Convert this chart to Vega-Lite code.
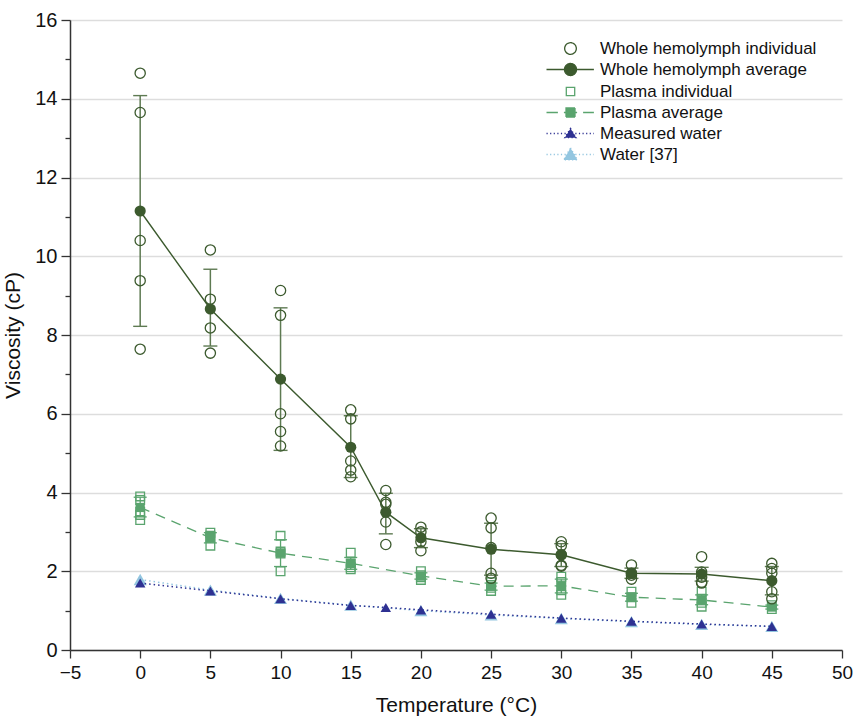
{
  "$schema": "https://vega.github.io/schema/vega-lite/v6.json",
  "width": 772,
  "height": 630,
  "autosize": "none",
  "padding": {"left": 70, "top": 20, "right": 11, "bottom": 71},
  "config": {
    "view": {"stroke": null},
    "font": "Liberation Sans",
    "axis": {
      "labelFont": "Liberation Sans",
      "titleFont": "Liberation Sans",
      "labelFontSize": 20,
      "titleFontSize": 21,
      "titleFontWeight": "normal",
      "labelColor": "#111111",
      "titleColor": "#111111",
      "domainColor": "#333333",
      "domainWidth": 1.5,
      "tickColor": "#333333",
      "tickWidth": 1.3
    }
  },
  "datasets": {
    "pts": [
      {"series": "Whole hemolymph individual", "T": 0, "v": 14.65},
      {"series": "Whole hemolymph individual", "T": 0, "v": 13.65},
      {"series": "Whole hemolymph individual", "T": 0, "v": 10.4},
      {"series": "Whole hemolymph individual", "T": 0, "v": 9.38},
      {"series": "Whole hemolymph individual", "T": 0, "v": 7.64},
      {"series": "Whole hemolymph individual", "T": 5, "v": 10.16},
      {"series": "Whole hemolymph individual", "T": 5, "v": 8.91},
      {"series": "Whole hemolymph individual", "T": 5, "v": 8.18},
      {"series": "Whole hemolymph individual", "T": 5, "v": 7.54},
      {"series": "Whole hemolymph individual", "T": 10, "v": 9.13},
      {"series": "Whole hemolymph individual", "T": 10, "v": 8.5},
      {"series": "Whole hemolymph individual", "T": 10, "v": 6.0},
      {"series": "Whole hemolymph individual", "T": 10, "v": 5.55},
      {"series": "Whole hemolymph individual", "T": 10, "v": 5.18},
      {"series": "Whole hemolymph individual", "T": 15, "v": 6.1},
      {"series": "Whole hemolymph individual", "T": 15, "v": 5.87},
      {"series": "Whole hemolymph individual", "T": 15, "v": 4.8},
      {"series": "Whole hemolymph individual", "T": 15, "v": 4.57},
      {"series": "Whole hemolymph individual", "T": 15, "v": 4.4},
      {"series": "Whole hemolymph individual", "T": 17.5, "v": 4.05},
      {"series": "Whole hemolymph individual", "T": 17.5, "v": 3.75},
      {"series": "Whole hemolymph individual", "T": 17.5, "v": 3.7},
      {"series": "Whole hemolymph individual", "T": 17.5, "v": 3.25},
      {"series": "Whole hemolymph individual", "T": 17.5, "v": 2.68},
      {"series": "Whole hemolymph individual", "T": 20, "v": 3.12},
      {"series": "Whole hemolymph individual", "T": 20, "v": 3.0},
      {"series": "Whole hemolymph individual", "T": 20, "v": 2.75},
      {"series": "Whole hemolymph individual", "T": 20, "v": 2.52},
      {"series": "Whole hemolymph individual", "T": 25, "v": 3.35},
      {"series": "Whole hemolymph individual", "T": 25, "v": 3.1},
      {"series": "Whole hemolymph individual", "T": 25, "v": 2.6},
      {"series": "Whole hemolymph individual", "T": 25, "v": 1.95},
      {"series": "Whole hemolymph individual", "T": 25, "v": 1.82},
      {"series": "Whole hemolymph individual", "T": 30, "v": 2.75},
      {"series": "Whole hemolymph individual", "T": 30, "v": 2.65},
      {"series": "Whole hemolymph individual", "T": 30, "v": 2.42},
      {"series": "Whole hemolymph individual", "T": 30, "v": 2.15},
      {"series": "Whole hemolymph individual", "T": 30, "v": 2.13},
      {"series": "Whole hemolymph individual", "T": 35, "v": 2.16},
      {"series": "Whole hemolymph individual", "T": 35, "v": 1.95},
      {"series": "Whole hemolymph individual", "T": 35, "v": 1.9},
      {"series": "Whole hemolymph individual", "T": 35, "v": 1.8},
      {"series": "Whole hemolymph individual", "T": 40, "v": 2.37},
      {"series": "Whole hemolymph individual", "T": 40, "v": 1.98},
      {"series": "Whole hemolymph individual", "T": 40, "v": 1.85},
      {"series": "Whole hemolymph individual", "T": 40, "v": 1.72},
      {"series": "Whole hemolymph individual", "T": 40, "v": 1.7},
      {"series": "Whole hemolymph individual", "T": 45, "v": 2.2},
      {"series": "Whole hemolymph individual", "T": 45, "v": 2.07},
      {"series": "Whole hemolymph individual", "T": 45, "v": 1.95},
      {"series": "Whole hemolymph individual", "T": 45, "v": 1.48},
      {"series": "Whole hemolymph individual", "T": 45, "v": 1.3},
      {"series": "Plasma individual", "T": 0, "v": 3.9},
      {"series": "Plasma individual", "T": 0, "v": 3.81},
      {"series": "Plasma individual", "T": 0, "v": 3.51},
      {"series": "Plasma individual", "T": 0, "v": 3.43},
      {"series": "Plasma individual", "T": 0, "v": 3.3},
      {"series": "Plasma individual", "T": 5, "v": 2.98},
      {"series": "Plasma individual", "T": 5, "v": 2.9},
      {"series": "Plasma individual", "T": 5, "v": 2.85},
      {"series": "Plasma individual", "T": 5, "v": 2.65},
      {"series": "Plasma individual", "T": 10, "v": 2.9},
      {"series": "Plasma individual", "T": 10, "v": 2.5},
      {"series": "Plasma individual", "T": 10, "v": 2.45},
      {"series": "Plasma individual", "T": 10, "v": 2.0},
      {"series": "Plasma individual", "T": 15, "v": 2.47},
      {"series": "Plasma individual", "T": 15, "v": 2.2},
      {"series": "Plasma individual", "T": 15, "v": 2.1},
      {"series": "Plasma individual", "T": 15, "v": 2.05},
      {"series": "Plasma individual", "T": 20, "v": 2.0},
      {"series": "Plasma individual", "T": 20, "v": 1.9},
      {"series": "Plasma individual", "T": 20, "v": 1.85},
      {"series": "Plasma individual", "T": 20, "v": 1.78},
      {"series": "Plasma individual", "T": 25, "v": 1.72},
      {"series": "Plasma individual", "T": 25, "v": 1.65},
      {"series": "Plasma individual", "T": 25, "v": 1.58},
      {"series": "Plasma individual", "T": 25, "v": 1.5},
      {"series": "Plasma individual", "T": 30, "v": 1.86},
      {"series": "Plasma individual", "T": 30, "v": 1.73},
      {"series": "Plasma individual", "T": 30, "v": 1.52},
      {"series": "Plasma individual", "T": 30, "v": 1.4},
      {"series": "Plasma individual", "T": 35, "v": 1.48},
      {"series": "Plasma individual", "T": 35, "v": 1.34},
      {"series": "Plasma individual", "T": 35, "v": 1.2},
      {"series": "Plasma individual", "T": 40, "v": 1.48},
      {"series": "Plasma individual", "T": 40, "v": 1.3},
      {"series": "Plasma individual", "T": 40, "v": 1.2},
      {"series": "Plasma individual", "T": 40, "v": 1.1},
      {"series": "Plasma individual", "T": 45, "v": 1.14},
      {"series": "Plasma individual", "T": 45, "v": 1.04}
    ],
    "avg": [
      {"series": "Whole hemolymph average", "T": 0, "v": 11.15, "lo": 8.22, "hi": 14.08},
      {"series": "Whole hemolymph average", "T": 5, "v": 8.66, "lo": 7.72, "hi": 9.67},
      {"series": "Whole hemolymph average", "T": 10, "v": 6.88, "lo": 5.07, "hi": 8.69},
      {"series": "Whole hemolymph average", "T": 15, "v": 5.15, "lo": 4.38, "hi": 5.95},
      {"series": "Whole hemolymph average", "T": 17.5, "v": 3.5, "lo": 2.95, "hi": 3.98},
      {"series": "Whole hemolymph average", "T": 20, "v": 2.85, "lo": 2.6, "hi": 3.08},
      {"series": "Whole hemolymph average", "T": 25, "v": 2.56, "lo": 1.9, "hi": 3.22},
      {"series": "Whole hemolymph average", "T": 30, "v": 2.42, "lo": 2.12, "hi": 2.7},
      {"series": "Whole hemolymph average", "T": 35, "v": 1.95, "lo": 1.82, "hi": 2.08},
      {"series": "Whole hemolymph average", "T": 40, "v": 1.93, "lo": 1.75, "hi": 2.1},
      {"series": "Whole hemolymph average", "T": 45, "v": 1.76, "lo": 1.4, "hi": 2.12},
      {"series": "Plasma average", "T": 0, "v": 3.62, "lo": 3.38, "hi": 3.88},
      {"series": "Plasma average", "T": 5, "v": 2.85, "lo": 2.72, "hi": 2.98},
      {"series": "Plasma average", "T": 10, "v": 2.46, "lo": 2.12, "hi": 2.8},
      {"series": "Plasma average", "T": 15, "v": 2.2, "lo": 2.05, "hi": 2.35},
      {"series": "Plasma average", "T": 20, "v": 1.88, "lo": 1.8, "hi": 1.96},
      {"series": "Plasma average", "T": 25, "v": 1.62, "lo": 1.52, "hi": 1.7},
      {"series": "Plasma average", "T": 30, "v": 1.63, "lo": 1.45, "hi": 1.8},
      {"series": "Plasma average", "T": 35, "v": 1.34, "lo": 1.24, "hi": 1.44},
      {"series": "Plasma average", "T": 40, "v": 1.27, "lo": 1.15, "hi": 1.4},
      {"series": "Plasma average", "T": 45, "v": 1.09, "lo": 1.04, "hi": 1.14}
    ],
    "water": [
      {"series": "Water [37]", "T": 0, "v": 1.79},
      {"series": "Water [37]", "T": 5, "v": 1.52},
      {"series": "Water [37]", "T": 10, "v": 1.31},
      {"series": "Water [37]", "T": 15, "v": 1.14},
      {"series": "Water [37]", "T": 20, "v": 1.0},
      {"series": "Water [37]", "T": 25, "v": 0.89},
      {"series": "Water [37]", "T": 30, "v": 0.8},
      {"series": "Water [37]", "T": 35, "v": 0.72},
      {"series": "Water [37]", "T": 40, "v": 0.65},
      {"series": "Water [37]", "T": 45, "v": 0.6},
      {"series": "Measured water", "T": 0, "v": 1.7},
      {"series": "Measured water", "T": 5, "v": 1.5},
      {"series": "Measured water", "T": 10, "v": 1.3},
      {"series": "Measured water", "T": 15, "v": 1.13},
      {"series": "Measured water", "T": 17.5, "v": 1.08},
      {"series": "Measured water", "T": 20, "v": 1.02},
      {"series": "Measured water", "T": 25, "v": 0.91},
      {"series": "Measured water", "T": 30, "v": 0.81},
      {"series": "Measured water", "T": 35, "v": 0.73},
      {"series": "Measured water", "T": 40, "v": 0.66},
      {"series": "Measured water", "T": 45, "v": 0.6}
    ]
  },
  "encoding": {
    "x": {
      "field": "T",
      "type": "quantitative",
      "scale": {"domain": [-5, 50], "nice": false, "zero": false},
      "axis": {
        "title": "Temperature (°C)",
        "values": [-5, 0, 5, 10, 15, 20, 25, 30, 35, 40, 45, 50],
        "grid": false,
        "tickSize": 8,
        "labelFontSize": 19,
        "labelPadding": 5,
        "titlePadding": 12,
        "labelFlush": false,
        "labelOverlap": false
      }
    },
    "y": {
      "field": "v",
      "type": "quantitative",
      "scale": {"domain": [0, 16], "nice": false, "zero": true},
      "axis": {
        "title": "Viscosity (cP)",
        "values": [0, 1, 2, 3, 4, 5, 6, 7, 8, 9, 10, 11, 12, 13, 14, 15, 16],
        "labelExpr": "datum.value % 2 === 1 ? '' : datum.label",
        "labelOverlap": false,
        "labelFlush": false,
        "tickSize": {"condition": {"test": "datum.value % 2 === 1", "value": 5}, "value": 9},
        "labelPadding": 4,
        "titlePadding": 11,
        "grid": true,
        "gridColor": "#dddddd",
        "gridWidth": 1.5,
        "gridOpacity": {"condition": {"test": "datum.value % 2 === 1", "value": 0}, "value": 1}
      }
    }
  },
  "layer": [
    {
      "data": {"name": "water"},
      "transform": [{"filter": {"field": "series", "equal": "Water [37]"}}],
      "mark": {"type": "line", "color": "#93c6e0", "strokeWidth": 1.5, "strokeDash": [1.5, 3]},
      "encoding": {}
    },
    {
      "data": {"name": "water"},
      "transform": [{"filter": {"field": "series", "equal": "Water [37]"}}],
      "mark": {"type": "point", "shape": "triangle-up", "filled": true, "color": "#93c6e0", "size": 170, "opacity": 1},
      "encoding": {}
    },
    {
      "data": {"name": "water"},
      "transform": [{"filter": {"field": "series", "equal": "Measured water"}}],
      "mark": {"type": "line", "color": "#2e3192", "strokeWidth": 1.5, "strokeDash": [1.5, 3]},
      "encoding": {}
    },
    {
      "data": {"name": "water"},
      "transform": [{"filter": {"field": "series", "equal": "Measured water"}}],
      "mark": {"type": "point", "shape": "triangle-up", "filled": true, "color": "#2e3192", "size": 110, "opacity": 1},
      "encoding": {}
    },
    {
      "data": {"name": "avg"},
      "transform": [{"filter": {"field": "series", "equal": "Plasma average"}}],
      "mark": {"type": "rule", "color": "#5aa46e", "strokeWidth": 1.3},
      "encoding": {"y": {"field": "lo", "type": "quantitative"}, "y2": {"field": "hi"}}
    },
    {
      "data": {"name": "avg"},
      "transform": [{"filter": {"field": "series", "equal": "Plasma average"}}],
      "mark": {"type": "tick", "orient": "horizontal", "color": "#5aa46e", "size": 13, "thickness": 1.3, "opacity": 1},
      "encoding": {"y": {"field": "lo", "type": "quantitative"}}
    },
    {
      "data": {"name": "avg"},
      "transform": [{"filter": {"field": "series", "equal": "Plasma average"}}],
      "mark": {"type": "tick", "orient": "horizontal", "color": "#5aa46e", "size": 13, "thickness": 1.3, "opacity": 1},
      "encoding": {"y": {"field": "hi", "type": "quantitative"}}
    },
    {
      "data": {"name": "avg"},
      "transform": [{"filter": {"field": "series", "equal": "Plasma average"}}],
      "mark": {"type": "line", "color": "#5aa46e", "strokeWidth": 1.3, "strokeDash": [10, 7]},
      "encoding": {}
    },
    {
      "data": {"name": "pts"},
      "transform": [{"filter": {"field": "series", "equal": "Plasma individual"}}],
      "mark": {"type": "point", "shape": "square", "filled": false, "color": "#5aa46e", "size": 75, "strokeWidth": 1.3, "opacity": 1},
      "encoding": {}
    },
    {
      "data": {"name": "avg"},
      "transform": [{"filter": {"field": "series", "equal": "Plasma average"}}],
      "mark": {"type": "point", "shape": "square", "filled": true, "color": "#5aa46e", "size": 85, "opacity": 1},
      "encoding": {}
    },
    {
      "data": {"name": "avg"},
      "transform": [{"filter": {"field": "series", "equal": "Whole hemolymph average"}}],
      "mark": {"type": "rule", "color": "#5e7a52", "strokeWidth": 1.5},
      "encoding": {"y": {"field": "lo", "type": "quantitative"}, "y2": {"field": "hi"}}
    },
    {
      "data": {"name": "avg"},
      "transform": [{"filter": {"field": "series", "equal": "Whole hemolymph average"}}],
      "mark": {"type": "tick", "orient": "horizontal", "color": "#5e7a52", "size": 14, "thickness": 1.4, "opacity": 1},
      "encoding": {"y": {"field": "lo", "type": "quantitative"}}
    },
    {
      "data": {"name": "avg"},
      "transform": [{"filter": {"field": "series", "equal": "Whole hemolymph average"}}],
      "mark": {"type": "tick", "orient": "horizontal", "color": "#5e7a52", "size": 14, "thickness": 1.4, "opacity": 1},
      "encoding": {"y": {"field": "hi", "type": "quantitative"}}
    },
    {
      "data": {"name": "avg"},
      "transform": [{"filter": {"field": "series", "equal": "Whole hemolymph average"}}],
      "mark": {"type": "line", "color": "#3c5a2e", "strokeWidth": 1.4},
      "encoding": {}
    },
    {
      "data": {"name": "pts"},
      "transform": [{"filter": {"field": "series", "equal": "Whole hemolymph individual"}}],
      "mark": {"type": "point", "shape": "circle", "filled": false, "size": 105, "strokeWidth": 1.3, "opacity": 1},
      "encoding": {
        "color": {
          "field": "series",
          "type": "nominal",
          "scale": {
            "domain": ["Whole hemolymph individual", "Whole hemolymph average", "Plasma individual", "Plasma average", "Measured water", "Water [37]"],
            "range": ["#3c5a2e", "#3c5a2e", "#5aa46e", "#5aa46e", "#2e3192", "#93c6e0"]
          },
          "legend": {
            "title": null,
            "orient": "none",
            "legendX": 492,
            "legendY": 20,
            "padding": 0,
            "labelFont": "Liberation Sans",
            "labelFontSize": 17,
            "labelColor": "#111111",
            "labelLimit": 400,
            "symbolSize": 144,
            "labelOffset": 21,
            "rowPadding": 3,
            "symbolStrokeWidth": 1.3,
            "encoding": {
              "symbols": {
                "shape": {
                  "condition": [
                    {"test": "datum.value === 'Whole hemolymph individual'", "value": "M-0.97,0A0.97,0.97 0 1,1 0.97,0A0.97,0.97 0 1,1 -0.97,0Z"},
                    {"test": "datum.value === 'Whole hemolymph average'", "value": "M-4,0H3.9M-1,0A1,1 0 1,1 1,0A1,1 0 1,1 -1,0Z"},
                    {"test": "datum.value === 'Plasma individual'", "value": "M-0.7,-0.7H0.7V0.7H-0.7Z"},
                    {"test": "datum.value === 'Plasma average'", "value": "M-4,0H-2.1M-1.1,0H1.1M2.1,0H3.9M-0.75,-0.75H0.75V0.75H-0.75Z"},
                    {"test": "datum.value === 'Measured water'", "value": "M-4,0H3.9M0,-0.85L0.95,0.7H-0.95Z"}
                  ],
                  "value": "M-4,0H3.9M0,-1.1L1.15,0.9H-1.15Z"
                },
                "fill": {
                  "condition": [
                    {"test": "datum.value === 'Whole hemolymph individual' || datum.value === 'Plasma individual'", "value": "transparent"},
                    {"test": "datum.value === 'Whole hemolymph average'", "value": "#3c5a2e"},
                    {"test": "datum.value === 'Plasma average'", "value": "#5aa46e"},
                    {"test": "datum.value === 'Measured water'", "value": "#2e3192"}
                  ],
                  "value": "#93c6e0"
                },
                "stroke": {
                  "condition": [
                    {"test": "datum.value === 'Whole hemolymph individual' || datum.value === 'Whole hemolymph average'", "value": "#3c5a2e"},
                    {"test": "datum.value === 'Plasma individual' || datum.value === 'Plasma average'", "value": "#5aa46e"},
                    {"test": "datum.value === 'Measured water'", "value": "#2e3192"}
                  ],
                  "value": "#93c6e0"
                },
                "strokeDash": {
                  "condition": {"test": "datum.value === 'Measured water' || datum.value === 'Water [37]'", "value": [1.2, 2.4]},
                  "value": [1, 0]
                },
                "strokeWidth": {"value": 1.3},
                "opacity": {"value": 1}
              }
            }
          }
        }
      }
    },
    {
      "data": {"name": "avg"},
      "transform": [{"filter": {"field": "series", "equal": "Whole hemolymph average"}}],
      "mark": {"type": "point", "shape": "circle", "filled": true, "color": "#3c5a2e", "size": 125, "opacity": 1},
      "encoding": {}
    }
  ]
}
